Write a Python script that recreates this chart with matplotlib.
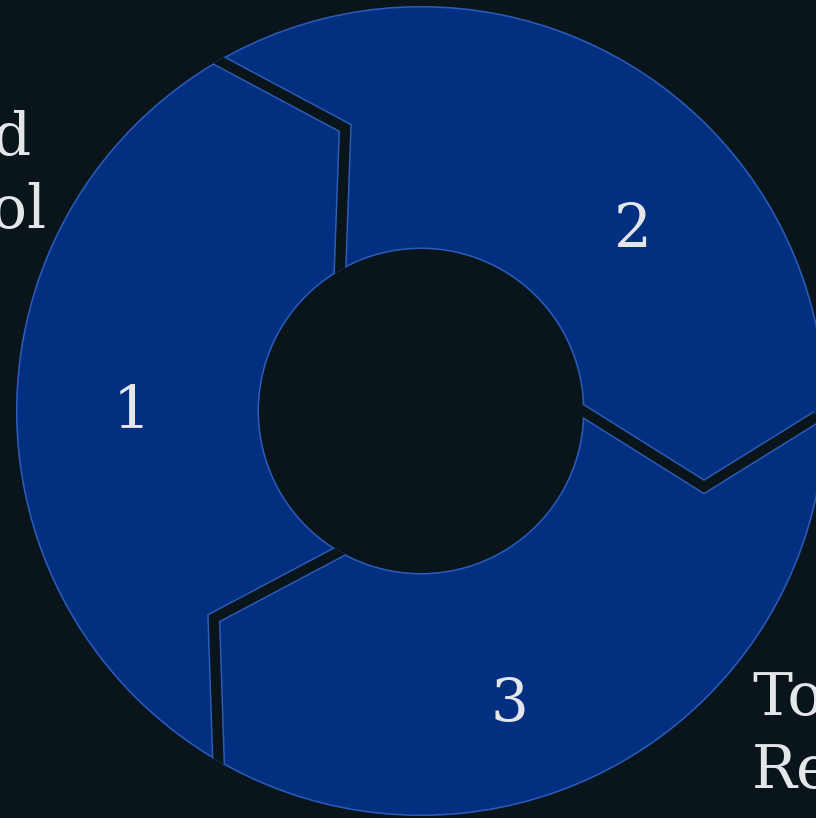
import numpy as np
import matplotlib
matplotlib.use("Agg")
import matplotlib.pyplot as plt
from matplotlib.patches import Polygon, Wedge, Circle

# segment data: label, angular span (degrees, counter-clockwise), label position
labels = ["1", "2", "3"]
spans = [(120, 240), (0, 120), (240, 360)]
label_xy = [(132, 428), (633, 247), (509, 722)]

# partly visible side texts
side_texts = ["d", "ol", "To", "Res"]
side_xy = [(31, 155), (46, 228), (752, 715), (752, 788)]
side_ha = ["right", "right", "left", "left"]

bg = "#09141b"
blue = "#022f7f"
edge = "#2c5cb6"
txt = "#e4e7ea"

cx, cy = 421, 411
r_out, r_in, r_mid = 405, 162, 293
tip = 15          # degrees the arrow tip leans clockwise
gap = 10          # px of dark gap
rim = 1.5         # px of light edge

px = 0.72         # points per pixel at dpi 100


def pt(r, a):
    a = np.radians(a)
    return np.array([cx + r * np.cos(a), cy - r * np.sin(a)])


def chevron(b, ext=20):
    m = pt(r_mid, b - tip)
    i = pt(r_in, b)
    o = pt(r_out, b)
    i = i + ext * (i - m) / np.linalg.norm(i - m)
    o = o + ext * (o - m) / np.linalg.norm(o - m)
    return np.array([i, m, o])


def segment(a0, a1):
    pts = [pt(r_out, a0), pt(r_mid, a0 - tip), pt(r_in, a0)]
    pts += [pt(r_in, a) for a in np.linspace(a0, a1, 120)]
    pts += [pt(r_in, a1), pt(r_mid, a1 - tip), pt(r_out, a1)]
    pts += [pt(r_out, a) for a in np.linspace(a1, a0, 200)]
    return np.array(pts)


fig = plt.figure(figsize=(8.16, 8.18), dpi=100, facecolor=bg)
ax = fig.add_axes([0, 0, 1, 1])
ax.set_facecolor(bg)
ax.set_xlim(0, 816)
ax.set_ylim(818, 0)
ax.axis("off")

for (a0, a1) in spans:
    ax.add_patch(Polygon(segment(a0, a1), closed=True, facecolor=blue,
                         edgecolor="none"))

# thin light rim on the outer and inner circle
ax.add_patch(Circle((cx, cy), r_out - rim / 2, facecolor="none",
                    edgecolor=edge, linewidth=rim * px))
ax.add_patch(Circle((cx, cy), r_in + rim / 2, facecolor="none",
                    edgecolor=edge, linewidth=rim * px))

ring = Wedge((cx, cy), r_out, 0, 360, width=r_out - r_in, transform=ax.transData)

for b in [0, 120, 240]:
    c = chevron(b)
    l1, = ax.plot(c[:, 0], c[:, 1], color=edge, lw=(gap + 2 * rim) * px,
                  solid_joinstyle="miter", solid_capstyle="butt")
    l2, = ax.plot(c[:, 0], c[:, 1], color=bg, lw=gap * px,
                  solid_joinstyle="miter", solid_capstyle="butt")
    l1.set_clip_path(ring)
    l2.set_clip_path(ring)

for lab, (x, y) in zip(labels, label_xy):
    ax.text(x, y, lab, color=txt, fontsize=43, family="DejaVu Serif",
            ha="center", va="baseline")

for s, (x, y), ha in zip(side_texts, side_xy, side_ha):
    ax.text(x, y, s, color=txt, fontsize=43, family="DejaVu Serif",
            ha=ha, va="baseline")

fig.savefig("out.png", dpi=100, facecolor=bg)
